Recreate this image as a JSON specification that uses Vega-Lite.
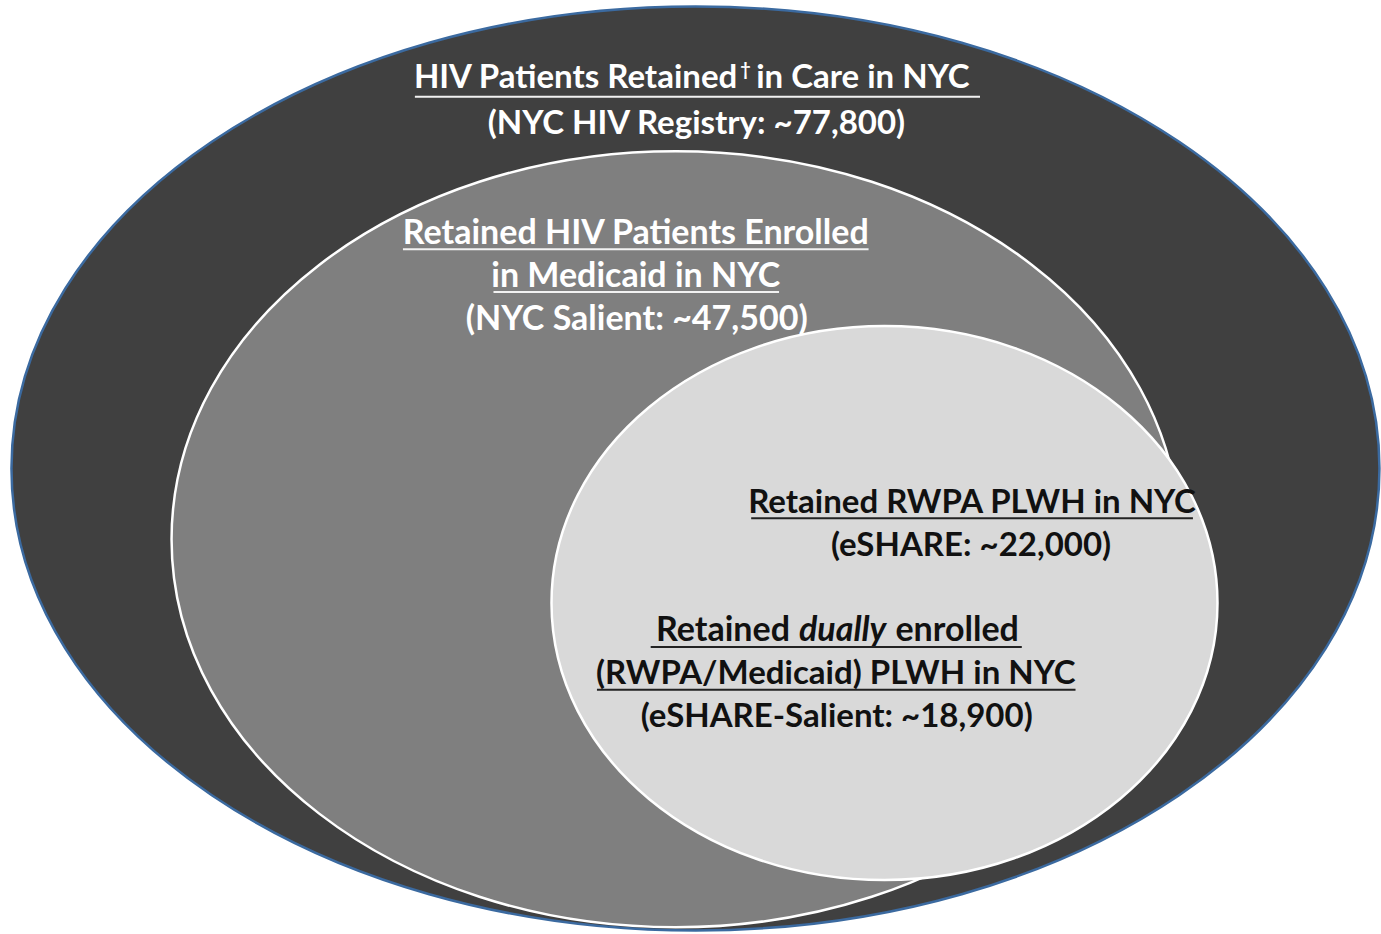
{
  "$schema": "https://vega.github.io/schema/vega-lite/v6.json",
  "width": 1381,
  "height": 934,
  "padding": 0,
  "autosize": {"type": "fit", "contains": "padding"},
  "background": "#ffffff",
  "view": {"stroke": null},
  "datasets": {
    "sets": [
      {"set": "Retained in care (NYC HIV Registry)", "n": 77800, "cx": 699, "cy": 470},
      {"set": "Retained, Medicaid (NYC Salient)", "n": 47500, "cx": 679, "cy": 541},
      {"set": "Retained RWPA (eSHARE)", "n": 22000, "cx": 889, "cy": 605}
    ],
    "labels": [
      {"line": 2, "tier": "outer", "label": "(NYC HIV Registry: ~77,800)", "x": 700, "y": 134},
      {"line": 3, "tier": "middle", "label": "Retained HIV Patients Enrolled", "x": 639, "y": 245},
      {"line": 4, "tier": "middle", "label": "in Medicaid in NYC", "x": 639, "y": 288},
      {"line": 5, "tier": "middle", "label": "(NYC Salient: ~47,500)", "x": 640, "y": 331},
      {"line": 6, "tier": "inner", "label": "Retained RWPA PLWH in NYC", "x": 977, "y": 515},
      {"line": 7, "tier": "inner", "label": "(eSHARE: ~22,000)", "x": 976, "y": 558},
      {"line": 9, "tier": "inner", "label": "(RWPA/Medicaid) PLWH in NYC", "x": 840, "y": 686},
      {"line": 10, "tier": "inner", "label": "(eSHARE-Salient: ~18,900)", "x": 841, "y": 729}
    ],
    "title1": [
      {"part": "HIV Patients Retained", "anchor": "right", "x": 741, "y": 88},
      {"part": "\u2020", "anchor": "sup", "x": 744, "y": 76},
      {"part": "in Care in NYC", "anchor": "left", "x": 760, "y": 88}
    ],
    "segments": [
      {"part": "Retained", "style": "normal", "anchor": "right", "x": 794, "y": 643},
      {"part": "dually", "style": "italic", "anchor": "left", "x": 803, "y": 643},
      {"part": "enrolled", "style": "normal", "anchor": "left", "x": 900, "y": 643}
    ],
    "underlines": [
      {"line": 1, "tier": "outer", "x1": 417, "x2": 985, "y": 97},
      {"line": 3, "tier": "middle", "x1": 405, "x2": 873, "y": 250},
      {"line": 4, "tier": "middle", "x1": 496, "x2": 783, "y": 293},
      {"line": 6, "tier": "inner", "x1": 755, "x2": 1199, "y": 520},
      {"line": 8, "tier": "inner", "x1": 654, "x2": 1027, "y": 649},
      {"line": 9, "tier": "inner", "x1": 600, "x2": 1081, "y": 692}
    ]
  },
  "layer": [
    {
      "data": {"name": "sets"},
      "transform": [{"filter": "datum.n == 77800"}],
      "mark": {"type": "point", "filled": true, "size": 4, "shape": "M -684 0 A 684 462 0 1 0 684 0 A 684 462 0 1 0 -684 0 Z", "fill": "#404040", "stroke": "#3b6aa0", "strokeWidth": 2.5, "opacity": 1},
      "encoding": {
        "x": {"field": "cx", "type": "quantitative", "scale": {"domain": [0, 1381], "nice": false, "zero": false}, "axis": null},
        "y": {"field": "cy", "type": "quantitative", "scale": {"domain": [0, 934], "nice": false, "zero": false, "reverse": true}, "axis": null}
      }
    },
    {
      "data": {"name": "sets"},
      "transform": [{"filter": "datum.n == 47500"}],
      "mark": {"type": "point", "filled": true, "size": 4, "shape": "M -504 0 A 504 388 0 1 0 504 0 A 504 388 0 1 0 -504 0 Z", "fill": "#7f7f7f", "stroke": "#ffffff", "strokeWidth": 2.5, "opacity": 1},
      "encoding": {
        "x": {"field": "cx", "type": "quantitative"},
        "y": {"field": "cy", "type": "quantitative"}
      }
    },
    {
      "data": {"name": "sets"},
      "transform": [{"filter": "datum.n == 22000"}],
      "mark": {"type": "point", "filled": true, "size": 4, "shape": "M -333 0 A 333 277 0 1 0 333 0 A 333 277 0 1 0 -333 0 Z", "fill": "#d9d9d9", "stroke": "#ffffff", "strokeWidth": 2.5, "opacity": 1},
      "encoding": {
        "x": {"field": "cx", "type": "quantitative"},
        "y": {"field": "cy", "type": "quantitative"}
      }
    },
    {
      "data": {"name": "title1"},
      "transform": [{"filter": "datum.anchor == 'right'"}],
      "mark": {"type": "text", "font": "Lato", "fontWeight": "bold", "fontSize": 33, "align": "right", "baseline": "alphabetic", "color": "#ffffff"},
      "encoding": {
        "x": {"field": "x", "type": "quantitative"},
        "y": {"field": "y", "type": "quantitative"},
        "text": {"field": "part"}
      }
    },
    {
      "data": {"name": "title1"},
      "transform": [{"filter": "datum.anchor == 'sup'"}],
      "mark": {"type": "text", "font": "Lato", "fontWeight": "bold", "fontSize": 18, "align": "left", "baseline": "alphabetic", "color": "#ffffff"},
      "encoding": {
        "x": {"field": "x", "type": "quantitative"},
        "y": {"field": "y", "type": "quantitative"},
        "text": {"field": "part"}
      }
    },
    {
      "data": {"name": "title1"},
      "transform": [{"filter": "datum.anchor == 'left'"}],
      "mark": {"type": "text", "font": "Lato", "fontWeight": "bold", "fontSize": 33, "align": "left", "baseline": "alphabetic", "color": "#ffffff"},
      "encoding": {
        "x": {"field": "x", "type": "quantitative"},
        "y": {"field": "y", "type": "quantitative"},
        "text": {"field": "part"}
      }
    },
    {
      "data": {"name": "labels"},
      "transform": [{"filter": "datum.tier == 'outer'"}],
      "mark": {"type": "text", "font": "Lato", "fontWeight": "bold", "fontSize": 33, "align": "center", "baseline": "alphabetic", "color": "#ffffff"},
      "encoding": {
        "x": {"field": "x", "type": "quantitative"},
        "y": {"field": "y", "type": "quantitative"},
        "text": {"field": "label"}
      }
    },
    {
      "data": {"name": "labels"},
      "transform": [{"filter": "datum.tier == 'middle'"}],
      "mark": {"type": "text", "font": "Lato", "fontWeight": "bold", "fontSize": 34, "align": "center", "baseline": "alphabetic", "color": "#ffffff"},
      "encoding": {
        "x": {"field": "x", "type": "quantitative"},
        "y": {"field": "y", "type": "quantitative"},
        "text": {"field": "label"}
      }
    },
    {
      "data": {"name": "labels"},
      "transform": [{"filter": "datum.tier == 'inner'"}],
      "mark": {"type": "text", "font": "Lato", "fontWeight": "bold", "fontSize": 33, "align": "center", "baseline": "alphabetic", "color": "#111111"},
      "encoding": {
        "x": {"field": "x", "type": "quantitative"},
        "y": {"field": "y", "type": "quantitative"},
        "text": {"field": "label"}
      }
    },
    {
      "data": {"name": "segments"},
      "transform": [{"filter": "datum.anchor == 'right'"}],
      "mark": {"type": "text", "font": "Lato", "fontWeight": "bold", "fontSize": 34, "align": "right", "baseline": "alphabetic", "color": "#111111"},
      "encoding": {
        "x": {"field": "x", "type": "quantitative"},
        "y": {"field": "y", "type": "quantitative"},
        "text": {"field": "part"}
      }
    },
    {
      "data": {"name": "segments"},
      "transform": [{"filter": "datum.anchor == 'left' && datum.style == 'italic'"}],
      "mark": {"type": "text", "font": "Lato", "fontWeight": "bold", "fontStyle": "italic", "fontSize": 34, "align": "left", "baseline": "alphabetic", "color": "#111111"},
      "encoding": {
        "x": {"field": "x", "type": "quantitative"},
        "y": {"field": "y", "type": "quantitative"},
        "text": {"field": "part"}
      }
    },
    {
      "data": {"name": "segments"},
      "transform": [{"filter": "datum.anchor == 'left' && datum.style == 'normal'"}],
      "mark": {"type": "text", "font": "Lato", "fontWeight": "bold", "fontSize": 34, "align": "left", "baseline": "alphabetic", "color": "#111111"},
      "encoding": {
        "x": {"field": "x", "type": "quantitative"},
        "y": {"field": "y", "type": "quantitative"},
        "text": {"field": "part"}
      }
    },
    {
      "data": {"name": "underlines"},
      "mark": {"type": "rule", "strokeWidth": 2},
      "encoding": {
        "x": {"field": "x1", "type": "quantitative"},
        "x2": {"field": "x2"},
        "y": {"field": "y", "type": "quantitative"},
        "color": {"field": "tier", "type": "nominal", "scale": {"domain": ["outer", "middle", "inner"], "range": ["#f2f2f2", "#f2f2f2", "#222222"]}, "legend": null}
      }
    }
  ]
}
